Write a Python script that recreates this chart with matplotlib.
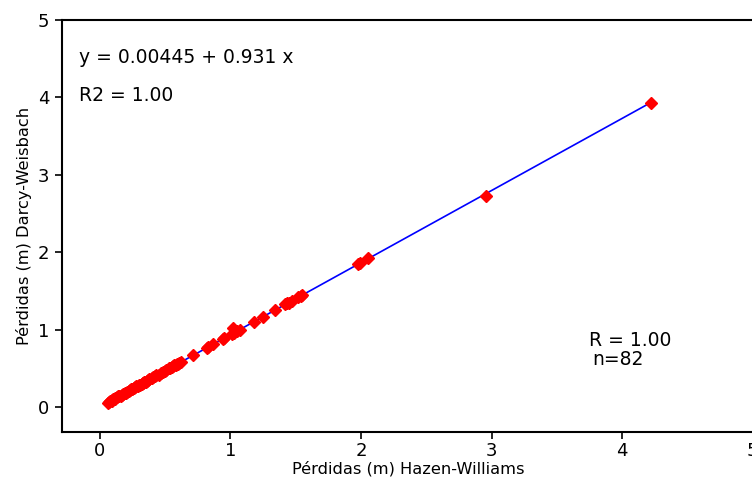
import matplotlib
matplotlib.use('Agg')
import matplotlib.pyplot as plt

# ── data ───────────────────────────────────────
hw = [0.06, 0.07, 0.08, 0.09, 0.10, 0.11, 0.12, 0.13, 0.14, 0.15,
      0.16, 0.17, 0.18, 0.19, 0.20, 0.21, 0.22, 0.23, 0.24, 0.25,
      0.26, 0.27, 0.28, 0.29, 0.30, 0.31, 0.32, 0.33, 0.34, 0.35,
      0.36, 0.37, 0.38, 0.40, 0.41, 0.42, 0.43, 0.45, 0.47, 0.48,
      0.50, 0.51, 0.53, 0.54, 0.55, 0.56, 0.57, 0.58, 0.59, 0.60,
      0.61, 0.62, 0.71, 0.82, 0.83, 0.87, 0.94, 0.95, 1.01, 1.02,
      1.03, 1.05, 1.07, 1.18, 1.25, 1.34, 1.42, 1.43, 1.45, 1.47,
      1.52, 1.54, 1.55, 1.98, 1.99, 2.05, 2.96, 4.22, 0.09, 0.12,
      0.25, 0.33]
dw = [0.06, 0.07, 0.08, 0.09, 0.10, 0.11, 0.12, 0.13, 0.14, 0.14,
      0.15, 0.16, 0.17, 0.18, 0.19, 0.20, 0.21, 0.22, 0.23, 0.24,
      0.25, 0.26, 0.27, 0.28, 0.29, 0.29, 0.30, 0.31, 0.32, 0.33,
      0.34, 0.35, 0.36, 0.38, 0.39, 0.40, 0.41, 0.42, 0.44, 0.45,
      0.47, 0.48, 0.50, 0.51, 0.52, 0.53, 0.54, 0.55, 0.56, 0.56,
      0.57, 0.58, 0.67, 0.77, 0.78, 0.82, 0.88, 0.89, 0.95, 1.02,
      0.96, 0.98, 1.00, 1.10, 1.17, 1.25, 1.33, 1.34, 1.35, 1.37,
      1.42, 1.44, 1.45, 1.85, 1.86, 1.93, 2.73, 3.93, 0.08, 0.11,
      0.24, 0.31]
fit_a, fit_b = 0.00445, 0.931

x_ticks = [0, 1, 2, 3, 4, 5]
y_ticks = [0, 1, 2, 3, 4, 5]

plt.rcParams['font.family'] = ['DejaVu Sans']

fig = plt.figure(figsize=(7.52, 4.82), dpi=100)
ax = fig.add_axes([0.0824, 0.1037, 0.922, 0.855])

x0, x1 = min(hw), max(hw)
ax.plot([x0, x1], [fit_a + fit_b * x0, fit_a + fit_b * x1],
        color='blue', linewidth=1.2, zorder=2)
ax.plot(hw, dw, linestyle='none', marker='D', markersize=6.5,
        color='red', markeredgecolor='red', zorder=3)

ax.set_xlim(-0.29, 5.02)
ax.set_ylim(-0.32, 5.0)
ax.set_xticks(x_ticks)
ax.set_yticks(y_ticks)
ax.tick_params(direction='out', length=5, width=1.2, labelsize=13)
ax.tick_params(axis='x', pad=2)
ax.tick_params(axis='y', pad=4)
ax.spines['right'].set_visible(False)
for s in ['left', 'bottom', 'top']:
    ax.spines[s].set_linewidth(1.5)

ax.set_xlabel('Pérdidas (m) Hazen-Williams', fontsize=11.7, labelpad=1)
ax.set_ylabel('Pérdidas (m) Darcy-Weisbach', fontsize=11.7, labelpad=4)

ax.text(-0.16, 4.52, 'y = 0.00445 + 0.931 x', fontsize=13.5, va='center')
ax.text(-0.16, 4.03, 'R2 = 1.00', fontsize=13.5, va='center')
ax.text(3.75, 0.86, 'R = 1.00', fontsize=13.5, va='center')
ax.text(3.77, 0.61, 'n=82', fontsize=13.5, va='center')

fig.savefig('out.png', dpi=100)
